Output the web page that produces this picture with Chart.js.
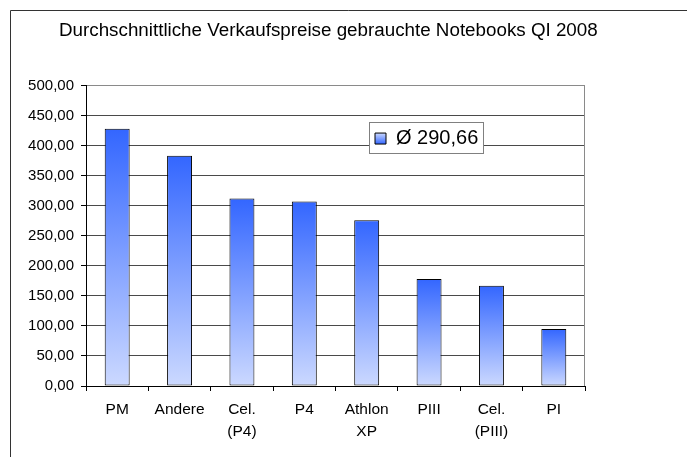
<!DOCTYPE html>
<html>
<head>
<meta charset="utf-8">
<script src="https://cdn.jsdelivr.net/npm/chart.js@4/dist/chart.umd.min.js"></script>
<style>
html,body{margin:0;padding:0;background:#fff;overflow:hidden}
#wrap{width:687px;height:457px;position:relative}
</style>
</head>
<body>
<div id="wrap"><canvas id="c" width="687" height="457"></canvas></div>
<script>
// ---- data ----
const titleText = 'Durchschnittliche Verkaufspreise gebrauchte Notebooks QI 2008';
const categories = [['PM'], ['Andere'], ['Cel.', '(P4)'], ['P4'], ['Athlon', 'XP'], ['PIII'], ['Cel.', '(PIII)'], ['PI']];
const prices = [428, 383, 312, 307, 276, 178, 167, 95];
const seriesLabel = 'Ø 290,66';
const yTickValues = [0, 50, 100, 150, 200, 250, 300, 350, 400, 450, 500];
const yTickLabels = ['0,00', '50,00', '100,00', '150,00', '200,00', '250,00', '300,00', '350,00', '400,00', '450,00', '500,00'];

// ---- styles ----
const FONT = "'Liberation Sans', Arial, sans-serif";
const TOP_BLUE = '#3366FF';
const BOTTOM_BLUE = '#CCD9FF';

function barGradient(ctx) {
  const chart = ctx.chart;
  const y = chart.scales && chart.scales.y;
  if (!y || !chart.chartArea || ctx.dataIndex === undefined) return TOP_BLUE;
  const v = ctx.dataset.data[ctx.dataIndex];
  const top = y.getPixelForValue(v);
  const bottom = y.getPixelForValue(0);
  const g = chart.ctx.createLinearGradient(0, top, 0, bottom);
  g.addColorStop(0, TOP_BLUE);
  g.addColorStop(1, BOTTOM_BLUE);
  return g;
}

const LEGEND_FONT = 20, LEGEND_BOX = 11, LEGEND_PAD = 5;
const TITLE_LEFT = 59;

const framePlugin = {
  id: 'frame',
  beforeDraw(chart) {
    const c = chart.ctx;
    c.save();
    c.strokeStyle = '#333';
    c.lineWidth = 1;
    c.beginPath();
    c.moveTo(10.5, chart.height);
    c.lineTo(10.5, 10.5);
    c.lineTo(chart.width, 10.5);
    c.stroke();
    c.restore();
  },
  beforeDatasetsDraw(chart) {
    const c = chart.ctx, ca = chart.chartArea;
    c.save();
    c.strokeStyle = '#8a8a8a';
    c.lineWidth = 1;
    const x = Math.round(ca.right) - 0.5;
    c.beginPath();
    c.moveTo(x, ca.top);
    c.lineTo(x, ca.bottom);
    c.stroke();
    c.restore();
  },
  afterLayout(chart) {
    const tb = chart.titleBlock;
    if (tb) { tb.left = TITLE_LEFT; tb.right = chart.width; tb.width = chart.width - TITLE_LEFT; }
    const lg = chart.legend;
    if (!lg) return;
    const ca = chart.chartArea;
    lg.left = ca.right - 215;
    lg.top = ca.top + 38;
    lg.right = lg.left + 140;
    lg.bottom = lg.top + 60;
    lg.width = 140;
    lg.height = 60;
    if (!lg._framed) {
      const orig = lg.draw;
      lg.draw = function () {
        const c = this.ctx;
        c.save();
        c.font = LEGEND_FONT + 'px ' + FONT;
        const tw = c.measureText(this.legendItems && this.legendItems[0] ? this.legendItems[0].text : '').width;
        const w = Math.round(LEGEND_PAD + LEGEND_BOX + LEGEND_FONT / 2 + tw + LEGEND_PAD) + 1;
        const h = LEGEND_PAD * 2 + Math.max(LEGEND_FONT, LEGEND_BOX) + 1;
        const x = Math.round(this.left) - 0.5, y = Math.round(this.top) - 1.5;
        c.fillStyle = '#fff';
        c.fillRect(x, y, w, h);
        c.strokeStyle = '#808080';
        c.lineWidth = 1;
        c.strokeRect(x, y, w, h);
        c.restore();
        orig.apply(this, arguments);
      };
      lg._framed = true;
    }
  }
};

new Chart(document.getElementById('c'), {
  type: 'bar',
  data: {
    labels: categories,
    datasets: [{
      label: seriesLabel,
      data: prices,
      backgroundColor: barGradient,
      borderColor: '#000',
      borderWidth: 1,
      borderSkipped: false,
      barPercentage: 0.4,
      categoryPercentage: 1
    }]
  },
  options: {
    responsive: false,
    devicePixelRatio: 1,
    animation: false,
    layout: { padding: { left: 12, right: 102, top: 0, bottom: 0 } },
    plugins: {
      tooltip: { enabled: false },
      title: {
        display: true,
        text: titleText,
        align: 'start',
        color: '#000',
        font: { family: FONT, size: 18.8, weight: 'normal', lineHeight: 1.2 },
        padding: { top: 20, bottom: 43 }
      },
      legend: {
        display: true,
        position: 'chartArea',
        align: 'start',
        labels: {
          color: '#000',
          font: { family: FONT, size: LEGEND_FONT },
          boxWidth: LEGEND_BOX,
          boxHeight: LEGEND_BOX,
          padding: LEGEND_PAD,
          generateLabels(chart) {
            const lg = chart.legend;
            const top = (lg ? lg.top : 0) + LEGEND_PAD + (LEGEND_FONT - LEGEND_BOX) / 2;
            const g = chart.ctx.createLinearGradient(0, top, 0, top + LEGEND_BOX);
            g.addColorStop(0, BOTTOM_BLUE);
            g.addColorStop(1, TOP_BLUE);
            return [{
              text: chart.data.datasets[0].label,
              fillStyle: g,
              strokeStyle: '#000',
              lineWidth: 1,
              fontColor: '#000',
              hidden: false,
              datasetIndex: 0
            }];
          }
        }
      }
    },
    scales: {
      x: {
        z: -1,
        offset: true,
        afterFit(scale) { scale.height = 71; },
        border: { display: true, color: '#000', width: 1 },
        grid: {
          offset: true,
          drawOnChartArea: false,
          drawTicks: true,
          tickLength: 5,
          color: '#000',
          tickColor: '#000'
        },
        ticks: {
          color: '#000',
          padding: 8,
          maxRotation: 0,
          autoSkip: false,
          font: { family: FONT, size: 15.5, lineHeight: 1.42 }
        }
      },
      y: {
        z: -1,
        min: 0,
        max: 500,
        afterFit(scale) { scale.width = 74; },
        afterBuildTicks(scale) { scale.ticks = yTickValues.map(v => ({ value: v })); },
        border: { display: true, color: '#000', width: 1 },
        grid: {
          color: (ctx) => (ctx.tick && ctx.tick.value === 500 ? '#8a8a8a' : '#4a4a4a'),
          tickColor: '#000',
          tickLength: 5,
          lineWidth: 1
        },
        ticks: {
          color: '#000',
          padding: 7,
          font: { family: FONT, size: 15 },
          callback: (value, index) => yTickLabels[index]
        }
      }
    }
  },
  plugins: [framePlugin]
});
</script>
</body>
</html>
